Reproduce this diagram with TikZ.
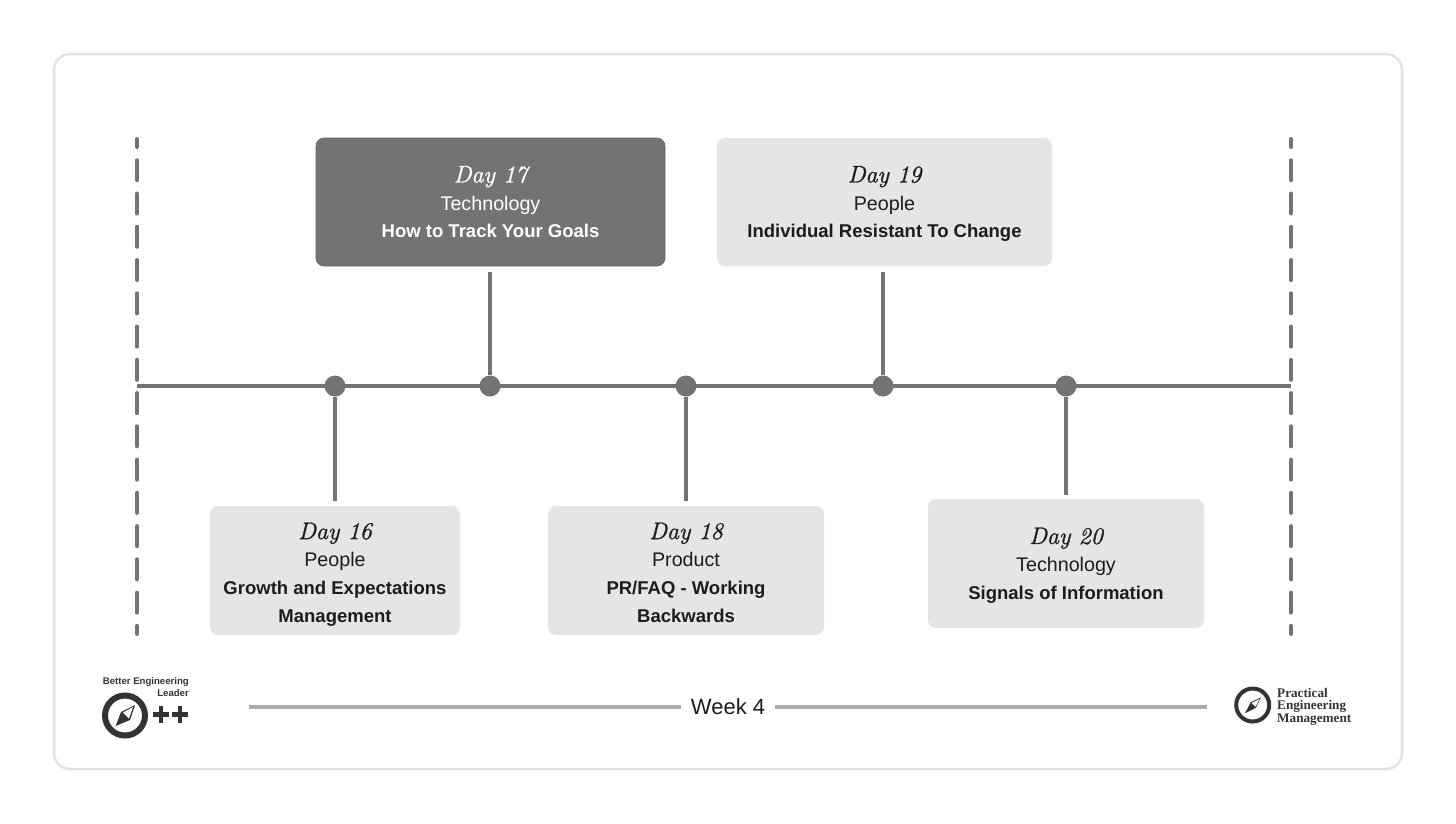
\documentclass[tikz,border=0pt]{standalone}
\usepackage{fontspec}
\setmainfont{Liberation Sans}
\newfontfamily\serifb{Liberation Serif}
\newfontfamily\lmhand[FakeBold=1.2]{Latin Modern Roman}
\definecolor{dk}{HTML}{737373}
\definecolor{lt}{HTML}{E5E5E5}
\definecolor{ink}{HTML}{1C1C1C}
\definecolor{logo}{HTML}{333333}
\tikzset{
  x=1pt,y=-1pt,
  card/.style={rounded corners=8pt,align=center,inner sep=0pt,font=\fontsize{19.7}{27.7}\selectfont,text=ink},
  lightcard/.style={card,fill=lt},
  darkcard/.style={card,fill=dk,draw=dk!85!black,line width=.6pt,text=white},
  conn/.style={draw=dk,line width=4pt},
  dot/.style={circle,fill=dk,minimum size=21pt,inner sep=0pt},
  guide/.style={draw=dk,line width=4pt,line cap=round,dash pattern=on 20pt off 13.26pt,dash phase=12pt},
  rule/.style={draw=black!33,line width=4pt},
}
\newcommand{\lstrut}{\rule[-7.7pt]{0pt}{27.7pt}}
% #1 = extra head room above the first line, which lowers the centred text block
\newcommand{\dayline}[2][4pt]{\rule[-7.7pt]{0pt}{\dimexpr27.7pt+#1\relax}{\fontsize{24}{27.7}\selectfont\lmhand\itshape #2}}
\newcommand{\catline}[1]{\lstrut #1}
\newcommand{\topic}[1]{\lstrut{\fontsize{18.5}{27.7}\selectfont\bfseries #1}}
\begin{document}
\begin{tikzpicture}
\useasboundingbox (0,0) rectangle (1456,823);
\fill[white] (0,0) rectangle (1456,823);
\draw[draw=black!11,line width=2.5pt,rounded corners=16pt] (54,54) rectangle (1402,769);

\coordinate (gl0) at (137,139); \coordinate (gl1) at (137,634);
\coordinate (gr0) at (1291,139); \coordinate (gr1) at (1291,634);
\draw[guide] (gl0) -- (gl1);
\draw[guide] (gr0) -- (gr1);

\coordinate (al) at (137,386); \coordinate (ar) at (1291,386);
\draw[conn] (al) -- (ar);

\node[dot] (p16) at (335,386) {};
\node[dot] (p17) at (490,386) {};
\node[dot] (p18) at (686,386) {};
\node[dot] (p19) at (883,386) {};
\node[dot] (p20) at (1066,386) {};

\node[darkcard,minimum width=349pt,minimum height=128pt] (d17) at (490.5,202) {\dayline{Day 17}\\\catline{Technology}\\\topic{How to Track Your Goals}};
\node[lightcard,minimum width=335pt,minimum height=128pt] (d19) at (884.5,202) {\dayline{Day 19}\\\catline{People}\\\topic{Individual Resistant To Change}};
\node[lightcard,minimum width=250pt,minimum height=129pt] (d16) at (335,570.5) {\dayline[8pt]{Day 16}\\\catline{People}\\\topic{Growth and Expectations}\\\topic{Management}};
\node[lightcard,minimum width=276pt,minimum height=129pt] (d18) at (686,570.5) {\dayline[8pt]{Day 18}\\\catline{Product}\\\topic{PR/FAQ - Working}\\\topic{Backwards}};
\node[lightcard,minimum width=276pt,minimum height=129pt] (d20) at (1066,563.5) {\dayline{Day 20}\\\catline{Technology}\\\topic{Signals of Information}};

\draw[conn,shorten <=6pt] (p17 |- d17.south) -- (p17);
\draw[conn,shorten <=6pt] (p19 |- d19.south) -- (p19);
\draw[conn,shorten >=5pt] (p16) -- (p16 |- d16.north);
\draw[conn,shorten >=5pt] (p18) -- (p18 |- d18.north);
\draw[conn,shorten >=4pt] (p20) -- (p20 |- d20.north);

\node[inner sep=0pt,minimum width=94pt,minimum height=26pt,text=ink,font=\fontsize{22}{26}\selectfont] (week) at (728,707) {Week 4};
\coordinate (wl) at (249,707); \coordinate (wr) at (1207,707);
\draw[rule] (wl) -- (week);
\draw[rule] (week) -- (wr);

% left logo
\node[inner sep=0pt,align=right,anchor=north east,text=logo,font=\fontsize{9.6}{12}\selectfont\bfseries] (bel) at (189,677) {Better Engineering\\Leader};
\draw[logo,line width=6pt] (125,715.5) circle (20);
\fill[logo] (135,705) -- (121,712) -- (115.7,726) -- (130,720) -- cycle;
\fill[white] (133,707) -- (123,712.5) -- (129,718.5) -- cycle;
\fill[logo] (152.5,712.2) rectangle (169,716.8);
\fill[logo] (158.5,706.2) rectangle (163.1,722.8);
\fill[logo] (171.7,712.2) rectangle (188.2,716.8);
\fill[logo] (177.6,706.2) rectangle (182.2,722.8);
% right logo
\draw[logo,line width=4pt] (1252.7,705) circle (16.5);
\fill[logo] (1261,697.3) -- (1250.7,702.3) -- (1245,713.3) -- (1256,707.7) -- cycle;
\fill[white] (1259.5,699) -- (1251.7,703) -- (1255.5,706.7) -- cycle;
\node[inner sep=0pt,align=left,anchor=west,text=logo,font=\fontsize{13.2}{12.5}\selectfont\serifb\bfseries] (pem) at (1277,706.5) {Practical\\Engineering\\Management};
\end{tikzpicture}
\end{document}
